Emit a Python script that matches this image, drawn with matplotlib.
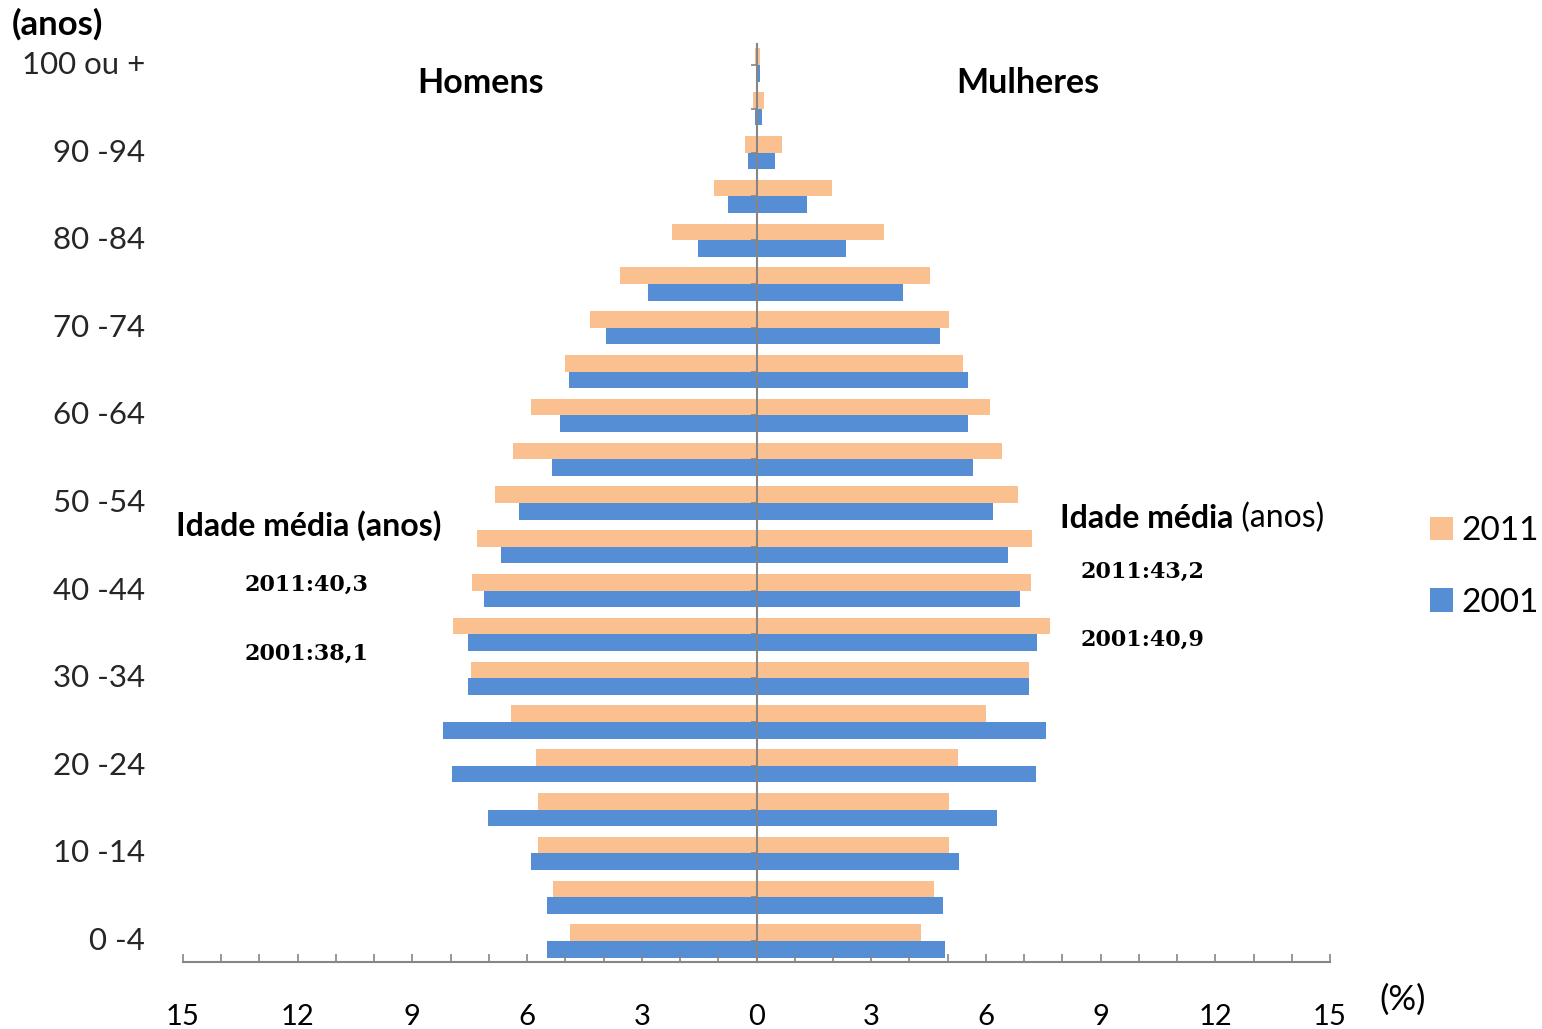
import numpy as np
import matplotlib.pyplot as plt
from matplotlib.transforms import blended_transform_factory

# age groups, bottom to top
ages = ['0 -4', '5 -9', '10 -14', '15 -19', '20 -24', '25 -29', '30 -34', '35 -39',
        '40 -44', '45 -49', '50 -54', '55 -59', '60 -64', '65 -69', '70 -74', '75 -79',
        '80 -84', '85 -89', '90 -94', '95 -99', '100 ou +']

# % of population (men drawn to the left)
men_2011 = [4.89, 5.31, 5.72, 5.72, 5.78, 6.43, 7.46, 7.94, 7.43, 7.32, 6.84,
            6.37, 5.90, 5.01, 4.35, 3.56, 2.22, 1.11, 0.31, 0.08, 0.03]
men_2001 = [5.48, 5.48, 5.89, 7.02, 7.97, 8.19, 7.55, 7.55, 7.14, 6.67, 6.20,
            5.36, 5.13, 4.90, 3.94, 2.85, 1.52, 0.75, 0.21, 0.03, 0.01]
women_2011 = [4.29, 4.65, 5.04, 5.04, 5.27, 6.01, 7.13, 7.68, 7.19, 7.20, 6.83,
              6.42, 6.12, 5.41, 5.04, 4.53, 3.34, 1.97, 0.66, 0.20, 0.08]
women_2001 = [4.94, 4.88, 5.30, 6.30, 7.31, 7.58, 7.13, 7.34, 6.89, 6.59, 6.18,
              5.66, 5.52, 5.52, 4.81, 3.82, 2.34, 1.32, 0.48, 0.14, 0.08]

orange = '#FAC090'
blue = '#558ED5'
grey = '#868686'

W, H = 1542, 1029
fig = plt.figure(figsize=(W / 100, H / 100), dpi=100)
ax = fig.add_axes([183 / W, 1 - 962 / H, (1330 - 183) / W, (962 - 44) / H])

y = np.arange(len(ages))
bh = 0.38
b11 = ax.barh(y + bh / 2, -np.array(men_2011), height=bh, color=orange, label='2011')
ax.barh(y + bh / 2, women_2011, height=bh, color=orange)
b01 = ax.barh(y - bh / 2, -np.array(men_2001), height=bh, color=blue, label='2001')
ax.barh(y - bh / 2, women_2001, height=bh, color=blue)

ax.set_xlim(-15, 15)
ax.set_ylim(-0.48, 20.48)

for s in ['top', 'right']:
    ax.spines[s].set_visible(False)
ax.spines['left'].set_position(('data', 0))
ax.spines['left'].set_color(grey)
ax.spines['left'].set_linewidth(1.5)
ax.spines['bottom'].set_color(grey)
ax.spines['bottom'].set_linewidth(1.5)

ax.set_xticks(np.arange(-15, 16, 3))
ax.set_xticks(np.arange(-15, 16, 1), minor=True)
ax.set_xticklabels([str(abs(v)) for v in range(-15, 16, 3)])
ax.tick_params(axis='x', which='both', direction='in', length=6, width=1.2, color=grey,
               pad=30, labelsize=21)
for lab in ax.get_xticklabels():
    lab.set_family('Lato')

ax.set_yticks(y)
ax.set_yticklabels([])
ax.tick_params(axis='y', direction='out', length=4, width=1.2, color=grey)

# age labels on the far left, every other group
tr = blended_transform_factory(ax.transAxes, ax.transData)
for i in range(0, len(ages), 2):
    ax.text(-0.033, y[i], ages[i], transform=tr, ha='right', va='center',
            fontsize=22.5, family='Lato', color='#262626')

def fx(px):
    return px / W

def fy(py):
    return 1 - py / H

fig.text(fx(12), fy(24), '(anos)', fontsize=25, fontweight='bold', family='Lato',
         ha='left', va='center')
fig.text(fx(481), fy(83), 'Homens', fontsize=24.5, fontweight='bold', family='Lato',
         ha='center', va='center')
fig.text(fx(1028), fy(83), 'Mulheres', fontsize=24.5, fontweight='bold', family='Lato',
         ha='center', va='center')
fig.text(fx(1403), fy(1000), '(%)', fontsize=25, family='Lato', ha='center', va='center')

# left note fully bold, right one with normal "(anos)"
fig.text(fx(176), fy(526), 'Idade média (anos)', fontsize=23, fontweight='bold',
         family='Lato', ha='left', va='center')
t1 = fig.text(fx(1060), fy(518), 'Idade média', fontsize=23, fontweight='bold',
              family='Lato', ha='left', va='center')
ax.annotate(' (anos)', xy=(1, 0.5), xycoords=t1, ha='left', va='center',
            fontsize=23, family='Lato')

med_txt = ['2011:40,3', '2001:38,1', '2011:43,2', '2001:40,9']
med_pos = [(245, 585), (245, 654), (1080, 572), (1080, 640)]
for s, (x0, y0) in zip(med_txt, med_pos):
    fig.text(fx(x0), fy(y0), s, fontsize=16, fontweight='bold', family='DejaVu Serif',
             ha='left', va='center')

fig.legend(handles=[b11, b01], labels=['2011', '2001'], loc='upper left',
           bbox_to_anchor=(fx(1430), fy(516)), frameon=False, borderpad=0,
           borderaxespad=0, handlelength=0.7, handleheight=0.7, handletextpad=0.25,
           labelspacing=1.25, prop={'family': 'Lato', 'size': 24})

fig.savefig('out.png', dpi=100)
